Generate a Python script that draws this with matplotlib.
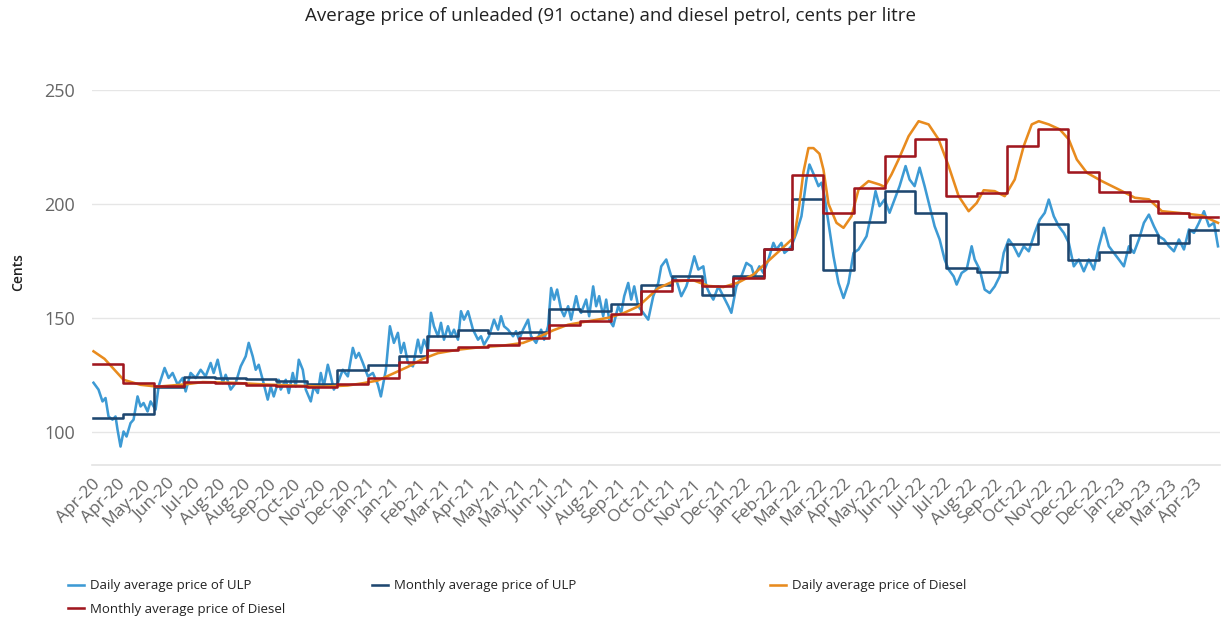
import matplotlib
matplotlib.use('Agg')
import matplotlib.pyplot as plt
import pandas as pd

plt.rcParams['font.family'] = ['Open Sans', 'DejaVu Sans']

title = 'Average price of unleaded (91 octane) and diesel petrol, cents per litre'
y_label = 'Cents'
start_date = '2020-04-01'

# Monthly averages (cents per litre)
month_labels = ['Apr-20', 'May-20', 'Jun-20', 'Jul-20', 'Aug-20', 'Sep-20', 'Oct-20', 'Nov-20',
                'Dec-20', 'Jan-21', 'Feb-21', 'Mar-21', 'Apr-21', 'May-21', 'Jun-21', 'Jul-21',
                'Aug-21', 'Sep-21', 'Oct-21', 'Nov-21', 'Dec-21', 'Jan-22', 'Feb-22', 'Mar-22',
                'Apr-22', 'May-22', 'Jun-22', 'Jul-22', 'Aug-22', 'Sep-22', 'Oct-22', 'Nov-22',
                'Dec-22', 'Jan-23', 'Feb-23', 'Mar-23', 'Apr-23']
ulp_monthly = [106.0, 107.8, 119.5, 123.9, 123.6, 123.2, 122.1, 121.1, 127.2, 129.4, 133.4, 142.2,
               144.6, 143.5, 143.6, 153.7, 153.2, 156.0, 164.6, 168.3, 160.2, 168.2, 180.2, 202.2,
               171.2, 192.0, 205.6, 196.1, 171.9, 170.2, 182.6, 191.4, 175.6, 179.0, 186.3, 182.9,
               188.5]
diesel_monthly = [129.7, 121.4, 120.0, 121.7, 121.4, 120.6, 120.2, 119.7, 121.1, 123.6, 130.5, 135.9,
                  137.0, 138.1, 141.2, 147.0, 148.7, 151.6, 161.6, 166.8, 164.0, 167.6, 180.3, 212.5,
                  196.2, 206.8, 221.0, 228.3, 203.4, 204.9, 225.4, 232.7, 214.1, 205.2, 201.2, 195.8,
                  194.3]
last_day = '2023-04-30'

# Daily average price of ULP: (days since start, cents)
ulp_daily_day = [1, 6, 10, 13, 16, 20, 23, 25, 28, 31, 34, 38, 41, 45, 48, 51, 55, 58, 63, 66,
                 72, 76, 80, 85, 90, 93, 98, 103, 108, 113, 118, 121, 125, 130, 133, 138, 143, 148,
                 153, 156, 160, 163, 166, 170, 175, 178, 181, 186,
                 188, 193, 196, 200, 203, 206, 210, 213, 218, 221, 225, 228, 231, 235, 238, 241,
                 245, 250, 255, 260, 263, 266, 270, 275, 280, 285, 288, 293, 297, 301, 305, 308,
                 311, 315, 320, 325, 328, 331, 335, 338, 341, 345, 348, 351, 355, 358, 361, 365,
                 368, 371, 375, 380, 385, 388, 391, 396, 401, 405, 408, 411, 415, 420, 423, 426,
                 430, 435, 438, 443, 448, 451, 455, 458, 461, 464, 468, 471, 475, 478, 483, 486,
                 488, 493, 496, 500, 503, 506, 510, 513, 516, 520, 525, 528, 531, 535, 538, 541,
                 545, 550, 555, 560, 565, 568, 573, 578, 583, 588, 593, 596, 601, 605, 610, 613,
                 616, 620, 625, 630, 635, 638, 643, 648, 653, 658, 661, 666, 670, 675, 680, 683,
                 688, 691, 695, 698, 703, 708, 713, 716, 721, 725, 728, 731, 735, 740, 745, 750,
                 755, 760, 765, 768, 773, 778, 782, 786, 791, 796, 801, 806, 812, 816, 821, 826,
                 831, 836, 841, 846, 851, 855, 860, 863, 868, 873, 878, 881, 886, 891, 896, 901,
                 906, 910, 915, 920, 925, 930, 935, 941, 946, 951, 955, 960, 965, 970, 975, 980,
                 985, 990, 995, 1000, 1005, 1010, 1015, 1020, 1025, 1030, 1035, 1040, 1045, 1050,
                 1055, 1060, 1065, 1070, 1075, 1080, 1085, 1090, 1095, 1100, 1105, 1110, 1115,
                 1120, 1124]
ulp_daily = [121.5, 118.5, 113.3, 114.8, 106.7, 105.3, 106.7, 100.9, 93.5, 100.1, 97.9, 103.8,
             105.3, 115.5, 111.1, 112.6, 108.9, 113.3, 109.7, 119.9,
             128.0, 123.6, 125.8, 120.7, 123.6, 117.7, 125.8, 123.6, 127.2, 124.3, 130.2, 125.8,
             131.6, 121.4, 125.0, 118.5, 121.4, 128.7, 133.1, 139.0, 133.1, 127.2, 129.4, 122.8,
             114.1, 119.9, 115.5, 122.8,
             118.5, 122.8, 117.0, 125.8, 119.9, 131.6, 127.2, 118.5, 113.3, 119.9, 117.0, 125.8,
             119.9, 129.4, 124.3, 118.5, 121.4, 127.2, 124.3, 136.8, 132.4, 134.6, 130.2, 124.3,
             125.8, 120.7, 115.5, 127.2, 146.3, 139.0, 143.4, 134.6, 139.0, 130.2, 128.7, 140.4,
             134.6, 140.4, 136.0, 152.2, 146.3, 141.9, 147.8, 140.4, 146.3, 141.9, 144.8, 140.4,
             152.9, 149.2, 152.9, 144.8, 140.4, 141.9, 138.2, 141.9, 149.2, 144.8, 150.7, 146.3,
             144.8, 141.9, 144.1, 140.4, 144.8, 149.2, 141.9, 139.0, 144.8, 140.4, 146.3, 163.1,
             158.0, 162.4, 153.6, 150.7, 155.1, 149.2, 159.5, 153.6,
             152.2, 158.0, 150.7, 163.8, 155.1, 159.5, 150.7, 158.0, 149.2, 146.3, 155.1, 152.2,
             159.5, 165.3, 158.0, 163.8, 155.1, 152.2, 149.2, 159.5, 165.3, 172.6, 175.6, 168.2,
             166.8, 159.5, 163.8, 168.2, 177.0, 171.2, 172.6, 163.8, 160.9, 158.0, 163.8, 159.5,
             155.1, 152.2, 163.8, 168.2, 174.1, 172.6, 168.2, 172.6, 169.7, 175.6, 182.9, 180.0,
             182.9, 178.5, 180.0, 181.4, 187.3, 194.6, 210.7, 217.3, 212.2, 207.8, 209.3, 203.4,
             191.7, 177.0, 165.3, 158.7, 165.3, 178.5, 180.0,
             182.2, 185.8, 196.1, 205.6, 199.0, 201.9, 196.1, 201.9, 207.8, 216.6, 210.7, 207.8,
             215.9, 207.8, 199.0, 190.2, 184.4, 175.6, 171.2, 168.2, 164.6, 169.7, 171.2, 181.4,
             175.6, 171.2, 162.4, 160.9, 163.8, 168.2, 178.5, 184.4, 181.4, 177.0, 181.4, 179.2,
             187.3, 193.1, 196.1, 201.9, 194.6, 190.2, 187.3, 182.9, 172.6, 175.6, 170.4, 175.6,
             171.2, 181.4, 189.5, 181.4, 178.5, 175.6, 172.6, 181.4, 178.5, 184.4, 191.7, 195.3,
             190.2, 185.8, 184.4, 181.4, 179.2, 184.4, 180.0, 188.8, 187.3, 191.7, 196.8, 190.2,
             191.7, 181.4]

# Daily average price of Diesel: (days since start, cents)
diesel_daily_day = [1, 12, 31, 48, 65, 93, 110, 140, 170, 200, 230, 255, 270, 285, 300, 315, 330,
                    345, 365, 385, 410, 430, 445, 460, 475, 495, 515, 530, 545, 555, 565, 580, 600,
                    615, 630, 645, 660, 675, 690, 701, 706, 710, 715, 720, 726, 730, 735, 743, 750,
                    758, 765, 775, 786, 791, 798, 805, 815, 825, 835, 845, 855, 865, 875, 883, 890,
                    901, 911, 921, 930, 938, 945, 955, 966, 975, 983, 993, 1008, 1025, 1041, 1055,
                    1068, 1091, 1108, 1124]
diesel_daily = [135.3, 132.0, 122.8, 120.6, 119.8, 120.8, 121.8, 121.5, 120.8, 120.3, 119.8, 120.3,
                121.3, 122.5, 125.5, 128.5, 132.0, 134.5, 136.0, 137.0, 137.8, 139.0, 141.5, 144.5,
                147.0, 148.5, 150.0, 152.0, 155.0, 159.0, 163.0, 166.0, 166.5, 164.0, 163.5, 165.5,
                169.0, 175.0, 181.0, 185.5, 200.0, 214.0, 224.5, 224.5, 222.0, 215.0, 200.0, 191.7,
                189.5, 194.6, 206.3, 210.0, 208.5, 207.5, 213.0, 219.5, 229.7, 236.3, 234.9, 228.3,
                216.6, 203.4, 196.8, 200.4, 206.0, 205.6, 203.4, 210.7, 225.4, 234.9, 236.3, 234.9,
                232.7, 228.3, 219.5, 213.7, 210.0, 206.3, 202.7, 202.0, 196.8, 195.8, 194.9, 191.7]

tick_labels = ['Apr-20', 'Apr-20', 'May-20', 'Jun-20', 'Jul-20', 'Aug-20', 'Aug-20', 'Sep-20',
               'Oct-20', 'Nov-20', 'Dec-20', 'Jan-21', 'Jan-21', 'Feb-21', 'Mar-21', 'Apr-21',
               'May-21', 'May-21', 'Jun-21', 'Jul-21', 'Aug-21', 'Sep-21', 'Oct-21', 'Oct-21',
               'Nov-21', 'Dec-21', 'Jan-22', 'Feb-22', 'Mar-22', 'Mar-22', 'Apr-22', 'May-22',
               'Jun-22', 'Jul-22', 'Jul-22', 'Aug-22', 'Sep-22', 'Oct-22', 'Nov-22', 'Dec-22',
               'Dec-22', 'Jan-23', 'Feb-23', 'Mar-23', 'Apr-23']
tick_step_days = 25

series_names = ['Daily average price of ULP', 'Monthly average price of ULP',
                'Daily average price of Diesel', 'Monthly average price of Diesel']
colors = ['#3d9ad4', '#1e4770', '#e88b1e', '#a0171f']

# ---- derived positions ----
t0 = pd.Timestamp(start_date)
month_start = [(pd.to_datetime(m, format='%b-%y') - t0).days for m in month_labels]
end_day = (pd.Timestamp(last_day) - t0).days
step_x = month_start + [end_day]

W, H = 1221, 621
fig = plt.figure(figsize=(W / 100, H / 100), dpi=100)
ax = fig.add_axes([92 / W, 1 - 465 / H, (1220 - 92) / W, (465 - 90) / H])

lw = 1.85
l1, = ax.plot(ulp_daily_day, ulp_daily, color=colors[0], lw=lw, zorder=3)
l2, = ax.step(step_x, ulp_monthly + [ulp_monthly[-1]], where='post', color=colors[1], lw=lw, zorder=4)
l3, = ax.plot(diesel_daily_day, diesel_daily, color=colors[2], lw=lw, zorder=5)
l4, = ax.step(step_x, diesel_monthly + [diesel_monthly[-1]], where='post', color=colors[3], lw=lw, zorder=6)

ax.set_xlim(-0.5, end_day + 2)
ax.set_ylim(85.4, 250)
ax.set_yticks([100, 150, 200, 250])
ax.grid(axis='y', color='#e6e6e6', lw=1)
ax.set_axisbelow(True)
for s in ['top', 'right', 'left']:
    ax.spines[s].set_visible(False)
ax.spines['bottom'].set_color('#e3e3e3')
ax.spines['bottom'].set_linewidth(1.2)
ax.tick_params(axis='y', length=0, pad=12, labelsize=13, labelcolor='#666666')
ax.set_xticks([i * tick_step_days for i in range(len(tick_labels))])
ax.set_xticklabels(tick_labels, rotation=45, ha='right', rotation_mode='anchor')
ax.tick_params(axis='x', length=0, pad=8, labelsize=12.5, labelcolor='#666666')

fig.text(18 / W, 1 - 272 / H, y_label, rotation=90, ha='center', va='center',
         fontsize=10, color='#222222', fontweight='semibold')
fig.text(0.5, 1 - 16 / H, title, ha='center', va='center', fontsize=13.5, color='#222222')

legend_pos = [(68, 586), (372, 586), (770, 586), (68, 609)]
for h, name, (px, py) in zip([l1, l2, l3, l4], series_names, legend_pos):
    fig.legend(handles=[h], labels=[name], loc='center left',
               bbox_to_anchor=(px / W, 1 - py / H), frameon=False, fontsize=9.5,
               handlelength=1.25, handletextpad=0.45, borderpad=0, borderaxespad=0,
               labelcolor='#222222')

fig.savefig('out.png', dpi=100)
